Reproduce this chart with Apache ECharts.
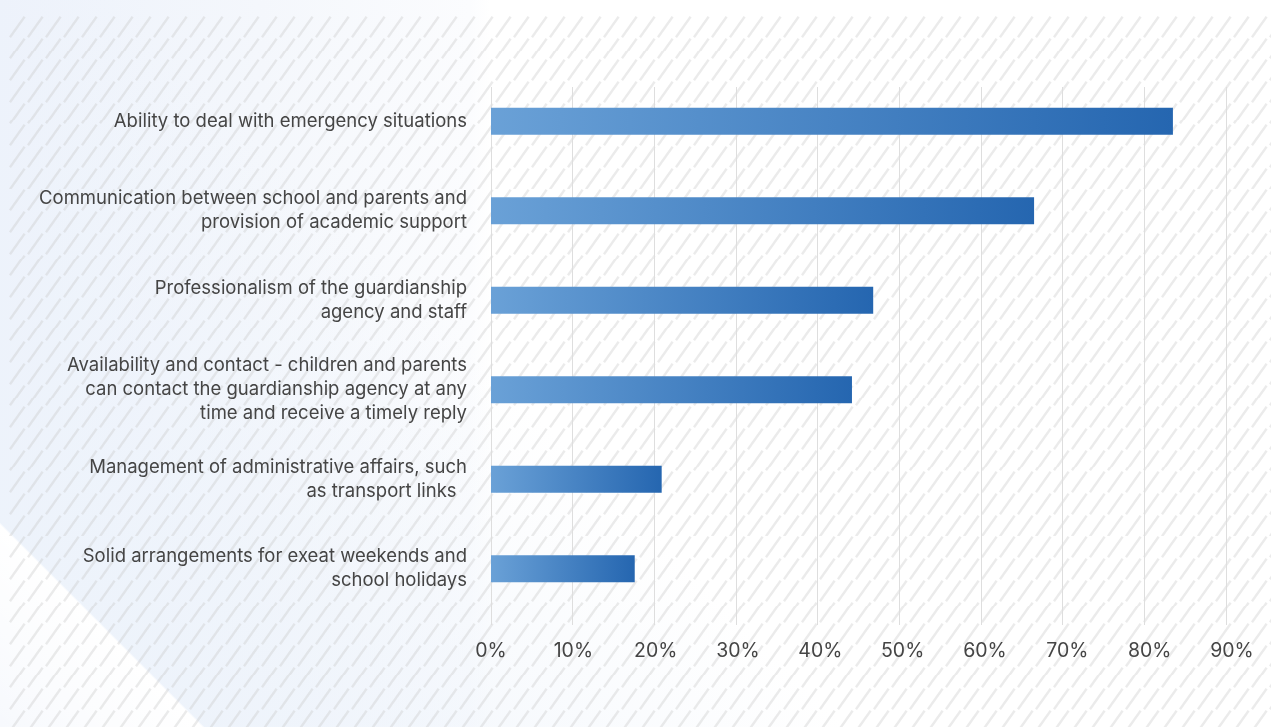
<!DOCTYPE html>
<html>
<head>
<meta charset="utf-8">
<script src="https://cdn.jsdelivr.net/npm/echarts@6/dist/echarts.min.js"></script>
<style>
  html, body { margin: 0; padding: 0; }
  body {
    width: 1271px; height: 727px; overflow: hidden; position: relative;
    background:
      linear-gradient(45deg, rgba(255,255,255,0.55) 0px, #ffffff 143px, rgba(237,243,251,0.85) 145px, rgba(237,243,251,0) 600px),
      linear-gradient(90deg, #edf2fb 0px, #f4f7fc 260px, #fbfcfe 470px, #ffffff 490px);
  }
  #stripes {
    position: absolute; left: 8px; top: 16px; right: 0; bottom: 0;
    background-image: url("data:image/svg+xml,%3Csvg xmlns='http://www.w3.org/2000/svg' width='18' height='21.7'%3E%3Cline x1='2' y1='20.9' x2='16.6' y2='0.8' stroke='%23c8c8c8' stroke-opacity='0.36' stroke-width='2.4'/%3E%3C/svg%3E");
    background-size: 18px 21.7px;
  }
  #chart { position: absolute; left: 0; top: 0; width: 1271px; height: 727px; }
</style>
</head>
<body>
<div id="stripes"></div>
<div id="chart"></div>
<script>
// Survey items (top to bottom) and the share of respondents choosing each
const categories = [
  'Ability to deal with emergency situations',
  'Communication between school and parents and\nprovision of academic support',
  'Professionalism of the guardianship\nagency and staff',
  'Availability and contact - children and parents\ncan contact the guardianship agency at any\ntime and receive a timely reply',
  'Management of administrative affairs, such\nas transport links  ',
  'Solid arrangements for exeat weekends and\nschool holidays'
];
const shares = [83.5, 66.5, 46.8, 44.2, 20.9, 17.6];
const axisMin = 0;
const axisMax = 90;
const axisStep = 10;

const FONT = 'Inter, "Noto Sans", sans-serif';
const TEXT = '#454545';

const chart = echarts.init(document.getElementById('chart'), null, { renderer: 'canvas' });

chart.setOption({
  backgroundColor: 'transparent',
  animation: false,
  grid: [
    // vertical gridlines
    { left: 491, right: 45, top: 87, bottom: 102 },
    // bars and category labels
    { left: 491, right: 45, top: 76.5, bottom: 113.5 },
    // percentage labels, spaced a touch wider than the gridlines
    { left: 491, right: 39, top: 87, bottom: 102 }
  ],
  xAxis: [
    {
      gridIndex: 0, type: 'value', min: axisMin, max: axisMax, interval: axisStep,
      axisLine: { show: false }, axisTick: { show: false }, axisLabel: { show: false },
      splitLine: { show: true, lineStyle: { color: '#dedede', width: 1 } }
    },
    {
      gridIndex: 1, type: 'value', min: axisMin, max: axisMax, interval: axisStep,
      show: false, splitLine: { show: false }
    },
    {
      gridIndex: 2, type: 'value', min: axisMin, max: axisMax, interval: axisStep,
      axisLine: { show: false }, axisTick: { show: false }, splitLine: { show: false },
      axisLabel: {
        formatter: '{value}%', color: TEXT, fontFamily: FONT, fontSize: 19.5, margin: 16
      }
    }
  ],
  yAxis: [
    { gridIndex: 0, type: 'category', data: categories, inverse: true, show: false },
    {
      gridIndex: 1, type: 'category', data: categories, inverse: true,
      axisLine: { show: false }, axisTick: { show: false }, splitLine: { show: false },
      axisLabel: {
        color: TEXT, fontFamily: FONT, fontSize: 18.5, lineHeight: 24, margin: 24, align: 'right',
        padding: [3, 0, 0, 0]
      }
    },
    { gridIndex: 2, type: 'category', data: categories, inverse: true, show: false }
  ],
  series: [
    {
      type: 'bar',
      xAxisIndex: 1, yAxisIndex: 1,
      data: shares,
      barWidth: 27,
      itemStyle: {
        color: new echarts.graphic.LinearGradient(0, 0, 1, 0, [
          { offset: 0, color: '#6aa1d7' },
          { offset: 1, color: '#2566b0' }
        ])
      }
    }
  ]
});
</script>
</body>
</html>
